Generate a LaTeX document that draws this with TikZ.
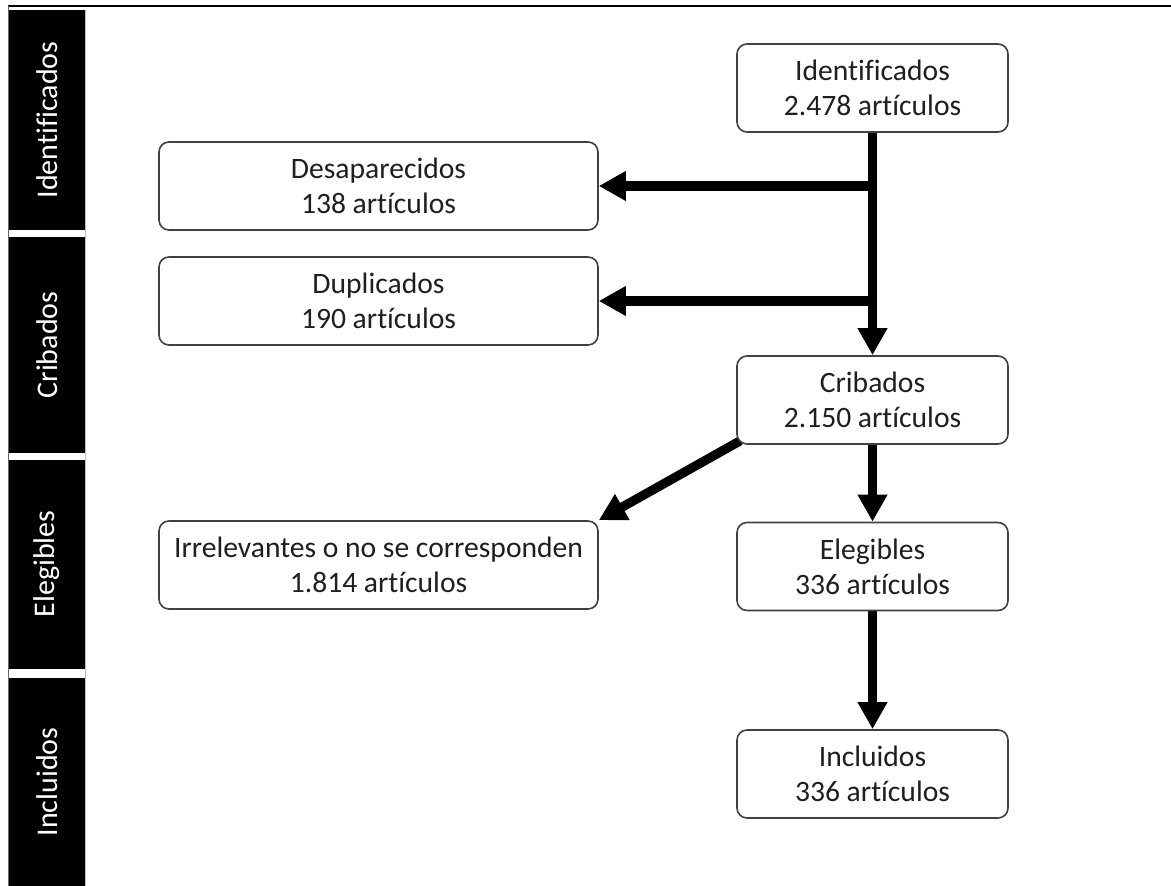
\documentclass[tikz,border=0pt]{standalone}
\usepackage{fontspec}
\setmainfont{Carlito}[Ligatures=NoCommon]
\usetikzlibrary{arrows.meta,backgrounds}
\begin{document}
\begin{tikzpicture}[x=0.5pt,y=-0.5pt,
  box/.style={draw=black!75, line width=0.8pt, rounded corners=5pt, fill=white,
    align=center, text=black!88, font=\fontsize{14.8}{17.5}\selectfont, inner sep=0pt},
  rbox/.style={box, minimum width=135.5pt, minimum height=44pt},
  lbox/.style={box, minimum width=219.5pt, minimum height=44pt},
  flow/.style={line width=4.6pt, -{Triangle[length=13.5pt,width=14pt]}},
  bandlabel/.style={text=white, rotate=90, font=\fontsize{15}{18}\selectfont, inner sep=0pt}
]
\useasboundingbox (0,0) rectangle (1171,886);

% frame lines
\draw[line width=1pt] (8,6) -- (1171,6);
\draw[black!60, line width=0.8pt] (8.5,6) -- (8.5,886);
\draw[black!25, line width=0.6pt] (85.5,10) -- (85.5,886);

% side bands
\fill[black] (9,10) rectangle (85,230);
\fill[black] (9,237) rectangle (85,453);
\fill[black] (9,460) rectangle (85,669);
\fill[black] (9,678) rectangle (85,886);
\node[bandlabel] (lab1) at (47,120) {Identificados};
\node[bandlabel] (lab2) at (47,345) {Cribados};
\node[bandlabel] (lab3) at (47,564) {Elegibles};
\node[bandlabel] (lab4) at (47,782) {Incluidos};

% boxes
\node[rbox] (ident) at (872.5,88) {Identificados\\2.478 artículos};
\node[lbox] (desap) at (378.5,186) {Desaparecidos\\138 artículos};
\node[lbox] (dup) at (378.5,301) {Duplicados\\190 artículos};
\node[rbox] (crib) at (872.5,400) {Cribados\\2.150 artículos};
\node[lbox] (irr) at (378.5,565) {Irrelevantes o no se corresponden\\1.814 artículos};
\node[rbox] (eleg) at (872.5,566.5) {Elegibles\\336 artículos};
\node[rbox] (incl) at (872.5,774) {Incluidos\\336 artículos};

% connectors
\begin{scope}[on background layer]
\draw[flow] (ident.south) -- (crib.north);
\draw[flow] (ident.south |- desap.east) -- (desap.east);
\draw[flow] (ident.south |- dup.east) -- (dup.east);
\draw[flow] (crib.south) -- (eleg.north);
\draw[flow] ([shift={(4,-4)}]crib.south west) -- (irr.north east);
\draw[flow] (eleg.south) -- (incl.north);
\end{scope}
\end{tikzpicture}
\end{document}
